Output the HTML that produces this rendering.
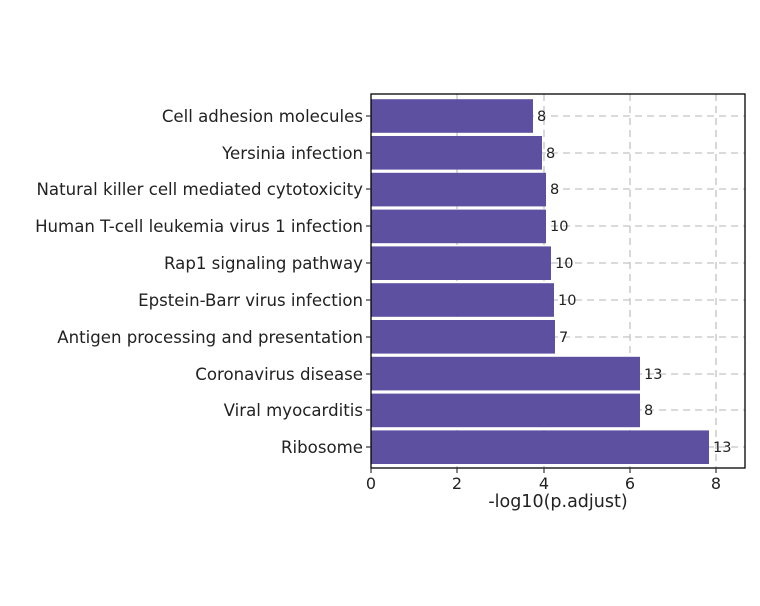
<!DOCTYPE html>
<html><head><meta charset="utf-8"><style>body{margin:0;background:#fff}svg{display:block}text{font-family:"DejaVu Sans","Liberation Sans",sans-serif;fill:#222}</style></head>
<body>
<svg width="760" height="606" viewBox="0 0 760 606">
<g stroke="#c4c4c4" stroke-width="1.3" stroke-dasharray="7,5">
<line x1="457" y1="94" x2="457" y2="468"/><line x1="544" y1="94" x2="544" y2="468"/><line x1="630" y1="94" x2="630" y2="468"/><line x1="716" y1="94" x2="716" y2="468"/>
<line x1="371" y1="116" x2="745" y2="116"/><line x1="371" y1="153" x2="745" y2="153"/><line x1="371" y1="189" x2="745" y2="189"/><line x1="371" y1="226" x2="745" y2="226"/><line x1="371" y1="263" x2="745" y2="263"/><line x1="371" y1="300" x2="745" y2="300"/><line x1="371" y1="337" x2="745" y2="337"/><line x1="371" y1="374" x2="745" y2="374"/><line x1="371" y1="410" x2="745" y2="410"/><line x1="371" y1="447" x2="745" y2="447"/>
</g>
<g fill="#5e50a1">
<rect x="371" y="99.2" width="162" height="33.6"/>
<rect x="371" y="136" width="171" height="33.6"/>
<rect x="371" y="172.8" width="175" height="33.6"/>
<rect x="371" y="209.6" width="175" height="33.6"/>
<rect x="371" y="246.4" width="180" height="33.6"/>
<rect x="371" y="283.2" width="183" height="33.6"/>
<rect x="371" y="320" width="184" height="33.6"/>
<rect x="371" y="356.8" width="269" height="33.6"/>
<rect x="371" y="393.6" width="269" height="33.6"/>
<rect x="371" y="430.4" width="338" height="33.6"/>
</g>
<g font-size="14.5">
<text x="537" y="121">8</text><text x="546" y="158">8</text><text x="550" y="194">8</text><text x="550" y="231">10</text><text x="555" y="268">10</text><text x="558" y="305">10</text><text x="559" y="342">7</text><text x="644" y="379">13</text><text x="644" y="415">8</text><text x="713" y="452">13</text>
</g>
<rect x="371" y="94" width="374" height="374" fill="none" stroke="#000" stroke-width="1.3"/>
<g stroke="#333" stroke-width="1.2">
<line x1="366" y1="116" x2="371" y2="116"/><line x1="366" y1="153" x2="371" y2="153"/><line x1="366" y1="189" x2="371" y2="189"/><line x1="366" y1="226" x2="371" y2="226"/><line x1="366" y1="263" x2="371" y2="263"/><line x1="366" y1="300" x2="371" y2="300"/><line x1="366" y1="337" x2="371" y2="337"/><line x1="366" y1="374" x2="371" y2="374"/><line x1="366" y1="410" x2="371" y2="410"/><line x1="366" y1="447" x2="371" y2="447"/>
<line x1="371" y1="468" x2="371" y2="473"/><line x1="457" y1="468" x2="457" y2="473"/><line x1="544" y1="468" x2="544" y2="473"/><line x1="630" y1="468" x2="630" y2="473"/><line x1="716" y1="468" x2="716" y2="473"/>
</g>
<g font-size="16.6" text-anchor="end">
<text x="363" y="122">Cell adhesion molecules</text>
<text x="363" y="159">Yersinia infection</text>
<text x="363" y="195">Natural killer cell mediated cytotoxicity</text>
<text x="363" y="232">Human T-cell leukemia virus 1 infection</text>
<text x="363" y="269">Rap1 signaling pathway</text>
<text x="363" y="306">Epstein-Barr virus infection</text>
<text x="363" y="343">Antigen processing and presentation</text>
<text x="363" y="380">Coronavirus disease</text>
<text x="363" y="416">Viral myocarditis</text>
<text x="363" y="453">Ribosome</text>
</g>
<g font-size="16" text-anchor="middle">
<text x="371" y="489">0</text><text x="457" y="489">2</text><text x="544" y="489">4</text><text x="630" y="489">6</text><text x="716" y="489">8</text>
<text x="558" y="507" font-size="17.5">-log10(p.adjust)</text>
</g>
</svg>
</body></html>
